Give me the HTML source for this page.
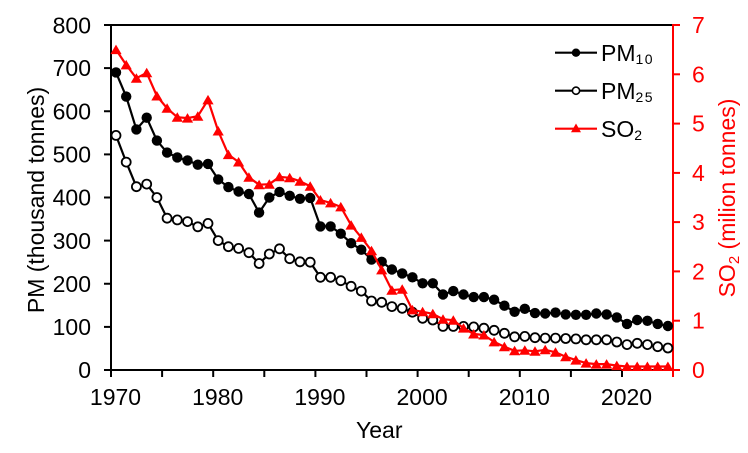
<!DOCTYPE html>
<html>
<head>
<meta charset="utf-8">
<style>
  html,body{margin:0;padding:0;background:#fff;}
  svg{display:block;}
  text{font-family:"Liberation Sans", Arial, sans-serif;}
</style>
</head>
<body>
<svg width="748" height="453" viewBox="0 0 748 453" xmlns="http://www.w3.org/2000/svg">
  <defs>
    <marker id="mf" markerUnits="userSpaceOnUse" markerWidth="14" markerHeight="14" viewBox="-7 -7 14 14" refX="0" refY="0" overflow="visible">
      <circle r="5.2" fill="#000"/>
    </marker>
    <marker id="mo" markerUnits="userSpaceOnUse" markerWidth="14" markerHeight="14" viewBox="-7 -7 14 14" refX="0" refY="0" overflow="visible">
      <circle r="4.5" fill="#fff" stroke="#000" stroke-width="1.8"/>
    </marker>
    <marker id="mt" markerUnits="userSpaceOnUse" markerWidth="14" markerHeight="14" viewBox="-7 -7 14 14" refX="0" refY="0" overflow="visible">
      <path d="M0,-5 L5.6,4.5 L-5.6,4.5 Z" fill="#f00"/>
    </marker>
  </defs>

  <!-- axes -->
  <line x1="111" y1="25" x2="673" y2="25" stroke="#000" stroke-width="2"/>
  <line x1="111" y1="24" x2="111" y2="371" stroke="#000" stroke-width="2"/>
  <line x1="110" y1="370" x2="673" y2="370" stroke="#000" stroke-width="2"/>
  <line x1="673" y1="24" x2="673" y2="377" stroke="#f00" stroke-width="2"/>

  <!-- left ticks -->
  <g stroke="#000" stroke-width="2">
    <line x1="104" y1="370" x2="111" y2="370"/>
    <line x1="104" y1="326.9" x2="111" y2="326.9"/>
    <line x1="104" y1="283.75" x2="111" y2="283.75"/>
    <line x1="104" y1="240.6" x2="111" y2="240.6"/>
    <line x1="104" y1="197.5" x2="111" y2="197.5"/>
    <line x1="104" y1="154.4" x2="111" y2="154.4"/>
    <line x1="104" y1="111.25" x2="111" y2="111.25"/>
    <line x1="104" y1="68.1" x2="111" y2="68.1"/>
    <line x1="104" y1="25" x2="111" y2="25"/>
  </g>
  <g font-size="23" fill="#000" text-anchor="end">
    <text x="91" y="378">0</text>
    <text x="91" y="335">100</text>
    <text x="91" y="292">200</text>
    <text x="91" y="249">300</text>
    <text x="91" y="205.5">400</text>
    <text x="91" y="162.5">500</text>
    <text x="91" y="119.5">600</text>
    <text x="91" y="76">700</text>
    <text x="91" y="33.5">800</text>
  </g>

  <!-- bottom ticks -->
  <g stroke="#000" stroke-width="2">
    <line x1="111" y1="370" x2="111" y2="377"/>
    <line x1="162.1" y1="370" x2="162.1" y2="377"/>
    <line x1="213.2" y1="370" x2="213.2" y2="377"/>
    <line x1="264.3" y1="370" x2="264.3" y2="377"/>
    <line x1="315.4" y1="370" x2="315.4" y2="377"/>
    <line x1="366.5" y1="370" x2="366.5" y2="377"/>
    <line x1="417.6" y1="370" x2="417.6" y2="377"/>
    <line x1="468.7" y1="370" x2="468.7" y2="377"/>
    <line x1="519.8" y1="370" x2="519.8" y2="377"/>
    <line x1="570.9" y1="370" x2="570.9" y2="377"/>
    <line x1="622" y1="370" x2="622" y2="377"/>
  </g>
  <g font-size="23" fill="#000" text-anchor="middle">
    <text x="115.5" y="405">1970</text>
    <text x="217.7" y="405">1980</text>
    <text x="319.9" y="405">1990</text>
    <text x="422.1" y="405">2000</text>
    <text x="524.3" y="405">2010</text>
    <text x="626.5" y="405">2020</text>
  </g>
  <text x="356" y="438" font-size="23" fill="#000">Year</text>

  <!-- right ticks -->
  <g stroke="#f00" stroke-width="2">
    <line x1="673" y1="370" x2="680" y2="370"/>
    <line x1="673" y1="320.7" x2="680" y2="320.7"/>
    <line x1="673" y1="271.4" x2="680" y2="271.4"/>
    <line x1="673" y1="222.1" x2="680" y2="222.1"/>
    <line x1="673" y1="172.9" x2="680" y2="172.9"/>
    <line x1="673" y1="123.6" x2="680" y2="123.6"/>
    <line x1="673" y1="74.3" x2="680" y2="74.3"/>
    <line x1="673" y1="25" x2="680" y2="25"/>
  </g>
  <g font-size="23" fill="#f00">
    <text x="692" y="378">0</text>
    <text x="692" y="328.7">1</text>
    <text x="692" y="279.4">2</text>
    <text x="692" y="230.1">3</text>
    <text x="692" y="180.9">4</text>
    <text x="692" y="131.6">5</text>
    <text x="692" y="82.3">6</text>
    <text x="692" y="33">7</text>
  </g>

  <!-- axis titles -->
  <text transform="translate(44,200) rotate(-90)" text-anchor="middle" font-size="23" fill="#000">PM (thousand tonnes)</text>
  <text transform="translate(735,198) rotate(-90)" text-anchor="middle" font-size="23" fill="#f00">SO<tspan font-size="15" dy="4">2</tspan><tspan dy="-4"> (milion tonnes)</tspan></text>

  <!-- series -->
  <polyline fill="none" stroke="#000" stroke-width="2.2" stroke-linejoin="round" marker-start="url(#mf)" marker-mid="url(#mf)" marker-end="url(#mf)"
    points="116,72.4 126.2,96.6 136.4,129.4 146.7,117.7 156.9,140.6 167.1,152.6 177.3,157.4 187.5,160.4 197.8,164.7 208,163.9 218.2,179.4 228.4,187.1 238.6,191.5 248.9,194 259.1,212.6 269.3,197.5 279.5,191.9 289.7,195.8 300,198.8 310.2,197.9 320.4,226.4 330.6,226.4 340.8,233.7 351.1,243.2 361.3,249.7 371.5,259.6 381.7,261.8 391.9,269.5 402.2,273.4 412.4,277.3 422.6,283.3 432.8,283.3 443,294.5 453.3,291.1 463.5,294.5 473.7,297.1 483.9,297.1 494.1,299.7 504.4,305.7 514.6,311.8 524.8,308.8 535,313.1 545.2,313.5 555.5,312.6 565.7,314.4 575.9,314.8 586.1,314.8 596.3,313.5 606.6,314.4 616.8,317.4 627,323.9 637.2,320 647.4,320.8 657.7,323.9 667.9,326"/>
  <polyline fill="none" stroke="#000" stroke-width="2.2" stroke-linejoin="round" marker-start="url(#mo)" marker-mid="url(#mo)" marker-end="url(#mo)"
    points="116,135.4 126.2,162.1 136.4,186.7 146.7,184.1 156.9,197.5 167.1,218.2 177.3,219.9 187.5,221.6 197.8,226.8 208,223.4 218.2,240.6 228.4,246.7 238.6,248.4 248.9,252.7 259.1,263.5 269.3,254 279.5,248.8 289.7,258.7 300,261.8 310.2,262.2 320.4,277.3 330.6,277.3 340.8,280.7 351.1,286.3 361.3,291.1 371.5,301 381.7,302.3 391.9,306.6 402.2,308.3 412.4,312.2 422.6,318.3 432.8,320 443,326.4 453.3,326.4 463.5,326.4 473.7,326.9 483.9,328.2 494.1,330.3 504.4,333.3 514.6,336.8 524.8,336.4 535,337.7 545.2,338.1 555.5,338.1 565.7,338.5 575.9,338.9 586.1,339.8 596.3,339.8 606.6,339.8 616.8,342 627,344.6 637.2,343.3 647.4,344.6 657.7,346.7 667.9,348"/>
  <polyline fill="none" stroke="#f00" stroke-width="2.2" stroke-linejoin="round" marker-start="url(#mt)" marker-mid="url(#mt)" marker-end="url(#mt)"
    points="116,49.6 126.2,64.9 136.4,78.2 146.7,72.8 156.9,96 167.1,108.3 177.3,117.2 187.5,118.1 197.8,116.2 208,99.9 218.2,131 228.4,154.6 238.6,162 248.9,177.3 259.1,184.7 269.3,184.2 279.5,176.8 289.7,177.8 300,181.2 310.2,186.2 320.4,200 330.6,202.9 340.8,206.9 351.1,225.1 361.3,237.4 371.5,250.7 381.7,269.9 391.9,290.2 402.2,289.2 412.4,309.9 422.6,311.8 432.8,313.8 443,319.2 453.3,320.2 463.5,328.1 473.7,334 483.9,335 494.1,341.9 504.4,346.8 514.6,350.8 524.8,350.3 535,351.3 545.2,349.8 555.5,352.3 565.7,356.7 575.9,360.1 586.1,363.1 596.3,364.1 606.6,364.1 616.8,365.6 627,366.5 637.2,366.5 647.4,366.5 657.7,366.5 667.9,366.5"/>

  <!-- legend -->
  <line x1="555" y1="52.7" x2="597" y2="52.7" stroke="#000" stroke-width="2.2"/>
  <circle cx="576" cy="52.7" r="4.2" fill="#000"/>
  <line x1="555" y1="90.7" x2="597" y2="90.7" stroke="#000" stroke-width="2.2"/>
  <circle cx="576" cy="90.7" r="3.6" fill="#fff" stroke="#000" stroke-width="1.6"/>
  <line x1="555" y1="128.7" x2="597" y2="128.7" stroke="#f00" stroke-width="2.2"/>
  <path d="M576,123.5 L581,132.2 L571,132.2 Z" fill="#f00"/>

  <g font-size="23" fill="#000">
    <text x="601" y="61">PM<tspan font-size="14" letter-spacing="1.5" dy="3">10</tspan></text>
    <text x="601" y="99">PM<tspan font-size="14" letter-spacing="1.5" dy="3">25</tspan></text>
    <text x="601" y="137">SO<tspan font-size="14" dy="3">2</tspan></text>
  </g>
</svg>
</body>
</html>
